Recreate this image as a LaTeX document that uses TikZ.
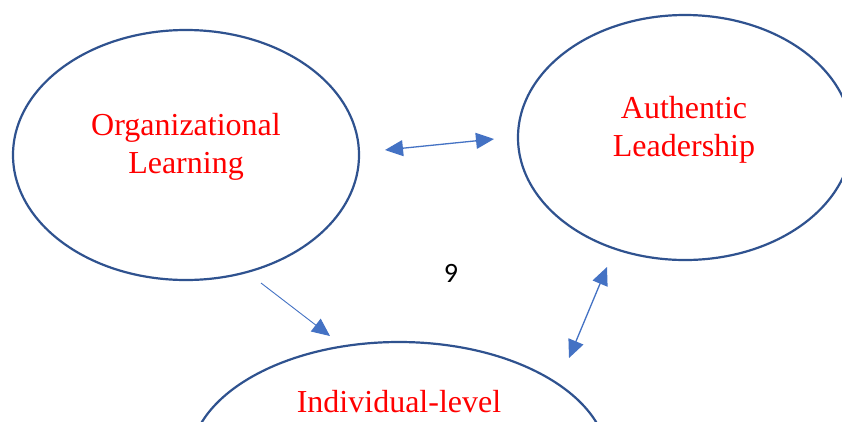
\documentclass[tikz,border=0pt]{standalone}
\usepackage{fontspec}
\setmainfont{Liberation Serif}
\newfontfamily\numfont{Carlito}
\usetikzlibrary{shapes.geometric,arrows.meta}
\definecolor{ellblue}{HTML}{2F528F}
\definecolor{arrblue}{HTML}{4472C4}
\definecolor{txtred}{HTML}{FF0000}
\tikzset{
  bubble/.style={draw=ellblue, line width=2.2pt, ellipse, inner sep=0pt},
  label/.style={text=txtred, align=center, font=\fontsize{32}{38}\selectfont, inner sep=0pt},
  link/.style={draw=arrblue, line width=1.3pt}
}
\begin{document}
\begin{tikzpicture}[x=1pt,y=-1pt]
\useasboundingbox[fill=white] (0,0) rectangle (842,421);
\node[bubble, minimum width=346pt, minimum height=250pt] (ol) at (186,155) {};
\node[bubble, minimum width=334pt, minimum height=245pt] (al) at (685,137.5) {};
\node[bubble, minimum width=418pt, minimum height=240pt] (il) at (399,462) {};
\node[label, anchor=base] (olt) at (186,173) {Organizational\\Learning};
\node[label, anchor=base] (alt) at (684,156) {Authentic\\Leadership};
\node[label, anchor=base] (ilt) at (399,412) {Individual-level};
\node[anchor=base, inner sep=0pt, font=\numfont\fontsize{28}{32}\selectfont] (nine) at (451,282) {9};
\coordinate (a1s) at (385,150);
\coordinate (a1e) at (494,139);
\coordinate (a2s) at (261,283);
\coordinate (a2e) at (330,336);
\coordinate (a3s) at (569,358);
\coordinate (a3e) at (607,267);
\draw[link, {Triangle[length=18pt,width=16pt]}-{Triangle[length=18pt,width=16pt]}] (a1s) -- (a1e);
\draw[link, line width=0.9pt, -{Triangle[length=18pt,width=16pt]}] (a2s) -- (a2e);
\draw[link, {Triangle[length=18pt,width=16pt]}-{Triangle[length=18pt,width=16pt]}] (a3s) -- (a3e);
\end{tikzpicture}
\end{document}
